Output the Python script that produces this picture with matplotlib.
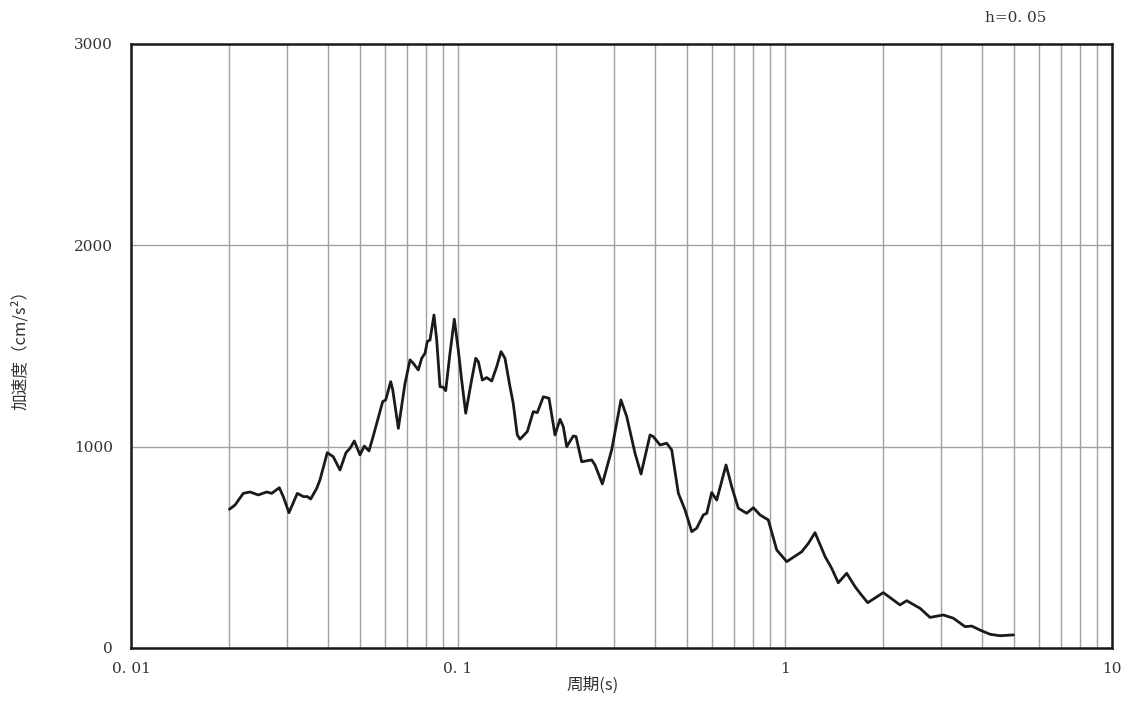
import numpy as np
import matplotlib
matplotlib.use("Agg")
import matplotlib.pyplot as plt
import matplotlib.ticker as mticker

# Acceleration response spectrum (h=0.05)
period = [
    0.02, 0.0208, 0.02205, 0.02312, 0.02451, 0.026, 0.02694, 0.02841, 0.02922, 0.03042,
    0.03226, 0.03365, 0.03461, 0.03545, 0.03698, 0.03784, 0.03983, 0.04155, 0.04356, 0.04545,
    0.04675, 0.04819, 0.05016, 0.0517, 0.05344, 0.05535, 0.05885, 0.06011, 0.06227, 0.06316,
    0.0657, 0.06887, 0.07134, 0.07301, 0.07561, 0.07745, 0.07927, 0.08056, 0.08211, 0.08445,
    0.08607, 0.0881, 0.09016, 0.09171, 0.09452, 0.09743, 0.1002, 0.1026, 0.1056, 0.1096,
    0.1133, 0.1154, 0.1187, 0.1224, 0.1268, 0.1313, 0.1354, 0.1392, 0.1442, 0.1475,
    0.1518, 0.1548, 0.1629, 0.1699, 0.1748, 0.1824, 0.1898, 0.198, 0.2051, 0.2099,
    0.215, 0.2252, 0.2296, 0.2389, 0.2564, 0.2624, 0.2763, 0.2951, 0.315, 0.3281,
    0.3478, 0.3628, 0.3866, 0.3956, 0.4147, 0.4347, 0.4503, 0.4718, 0.4945, 0.5185,
    0.537, 0.5626, 0.5763, 0.5967, 0.6183, 0.6601, 0.6871, 0.7198, 0.7636, 0.8,
    0.8386, 0.8889, 0.9432, 1.012, 1.125, 1.179, 1.235, 1.326, 1.389, 1.455,
    1.544, 1.637, 1.696, 1.79, 1.998, 2.247, 2.356, 2.588, 2.776, 3.049,
    3.271, 3.553, 3.724, 3.949, 4.237, 4.545, 5.0,
]
accel = [
    689, 710, 768, 775, 760, 775, 768, 796, 752, 672,
    768, 752, 752, 740, 793, 835, 970, 950, 884, 970,
    992, 1028, 959, 1003, 979, 1066, 1224, 1232, 1323, 1282,
    1091, 1315, 1431, 1414, 1381, 1439, 1464, 1522, 1530, 1654,
    1530, 1298, 1295, 1278, 1464, 1633, 1480, 1331, 1166, 1315,
    1439, 1422, 1331, 1343, 1326, 1397, 1472, 1439, 1298, 1216,
    1058, 1037, 1075, 1174, 1169, 1248, 1240, 1058, 1136, 1099,
    1000, 1053, 1050, 925, 934, 909, 815, 984, 1232, 1149,
    967, 864, 1058, 1050, 1008, 1017, 984, 769, 686, 578,
    595, 661, 669, 772, 735, 909, 801, 694, 669, 697,
    661, 636, 487, 429, 478, 520, 573, 454, 396, 324,
    371, 305, 272, 225, 275, 214, 235, 197, 152, 164,
    148, 106, 109, 89, 68, 61, 65,
]

x_ticks = [0.01, 0.1, 1, 10]
x_tick_labels = ["0. 01", "0. 1", "1", "10"]
y_ticks = [0, 1000, 2000, 3000]

jp_font = ["Noto Sans CJK JP", "DejaVu Sans"]
num_font = "DejaVu Serif"

fig = plt.figure(figsize=(11.36, 7.22), dpi=100)
ax = fig.add_axes([0.1153, 0.1025, 0.8636, 0.8366])

ax.set_xscale("log")
ax.set_xlim(0.01, 10)
ax.set_ylim(0, 3000)

# grid on every minor decade step, horizontal at 1000s
ax.xaxis.set_major_locator(mticker.FixedLocator(x_ticks))
ax.xaxis.set_minor_locator(mticker.LogLocator(base=10, subs=np.arange(2, 10)))
ax.xaxis.set_minor_formatter(mticker.NullFormatter())
ax.set_xticklabels(x_tick_labels, fontfamily=num_font, fontsize=11, color="#333333")
ax.set_yticks(y_ticks)
ax.set_yticklabels([str(v) for v in y_ticks], fontfamily=num_font, fontsize=11, color="#333333")
ax.grid(True, which="both", axis="x", color="#a0a0a0", lw=1.0)
ax.grid(True, which="major", axis="y", color="#a0a0a0", lw=1.0)
ax.tick_params(which="both", length=0)
ax.tick_params(axis="x", pad=10)
ax.tick_params(axis="y", pad=13)

ax.plot(period, accel, color="#1a1a1a", lw=2.0, zorder=3,
        solid_joinstyle="round", solid_capstyle="round")

for s in ax.spines.values():
    s.set_color("#1a1a1a")
    s.set_linewidth(1.8)
    s.set_zorder(4)

ax.set_xlabel("周期(s)", family=jp_font, fontsize=12, color="#333333")
ax.xaxis.set_label_coords(0.471, -0.048)
ax.set_ylabel("加速度（cm/s²）", family=jp_font, fontsize=12, color="#333333")
ax.yaxis.set_label_coords(-0.104, 0.50)
fig.text(0.867, 0.975, "h=0. 05", fontfamily=num_font, fontsize=11, color="#333333",
         ha="left", va="center")

fig.savefig("out.png", dpi=100)
